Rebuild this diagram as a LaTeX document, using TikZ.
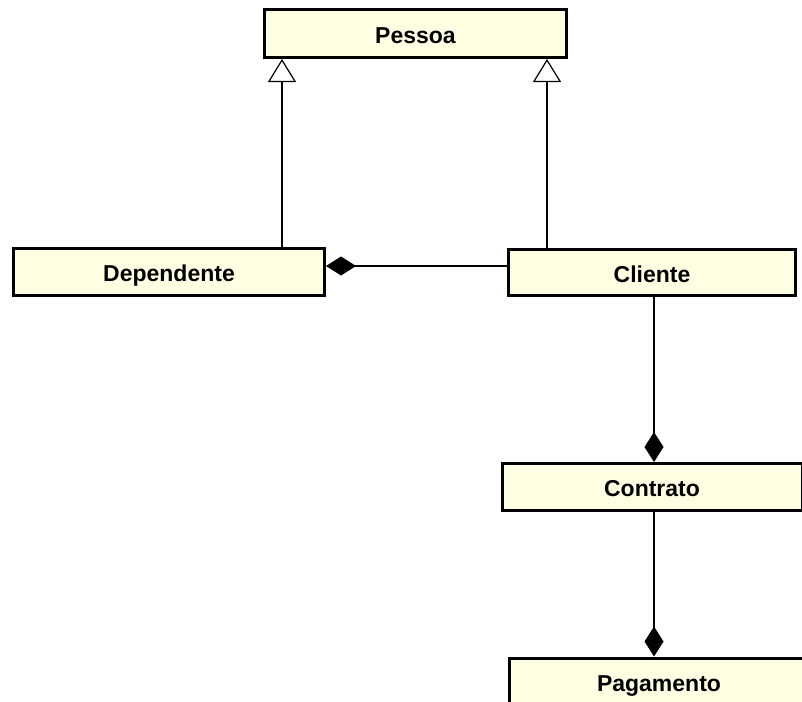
\documentclass[tikz,border=0pt]{standalone}
\usepackage{fontspec}
\setmainfont{Liberation Sans}
\usetikzlibrary{arrows.meta}
\definecolor{classfill}{RGB}{255,255,228}
\tikzset{
  umlclass/.style={rectangle, draw=black, line width=3pt, fill=classfill,
    inner sep=0pt, text height=19.5pt, text depth=0pt,
    font=\fontsize{23}{27}\selectfont\bfseries},
  link/.style={draw=black, line width=1.5pt},
  generalization/.style={link, -{Triangle[open, length=23pt, width=28pt, line width=1.2pt, fill=white]}},
  composition/.style={link, -{Diamond[length=30pt, width=19pt, fill=black]}}
}
\begin{document}
\begin{tikzpicture}[x=1pt, y=-1pt]
  \useasboundingbox (0,0) rectangle (802,701);
  \clip (0,0) rectangle (802,701);
  \fill[white] (0,0) rectangle (802,701);

  % classes
  \node[umlclass, minimum width=302pt, minimum height=48pt] (Pessoa) at (415.5,33.5) {Pessoa};
  \node[umlclass, minimum width=311pt, minimum height=47pt] (Dependente) at (169,272) {Dependente};
  \node[umlclass, minimum width=287pt, minimum height=46pt] (Cliente) at (652,272.5) {Cliente};
  \node[umlclass, minimum width=300pt, minimum height=47pt] (Contrato) at (652,487) {Contrato};
  \node[umlclass, minimum width=300pt, minimum height=48pt] (Pagamento) at (659,682) {Pagamento};

  % guide coordinates for the connector positions
  \coordinate (genL) at (282,0);
  \coordinate (genR) at (547,0);
  \coordinate (assocY) at (0,266);
  \coordinate (compX) at (654,0);

  % inheritance
  \draw[generalization] (Dependente.north -| genL) -- (Pessoa.south -| genL);
  \draw[generalization] (Cliente.north -| genR) -- (Pessoa.south -| genR);

  % compositions
  \draw[composition] (Cliente.west |- assocY) -- (Dependente.east |- assocY);
  \draw[composition] (Cliente.south -| compX) -- (Contrato.north -| compX);
  \draw[composition] (Contrato.south -| compX) -- (Pagamento.north -| compX);
\end{tikzpicture}
\end{document}
